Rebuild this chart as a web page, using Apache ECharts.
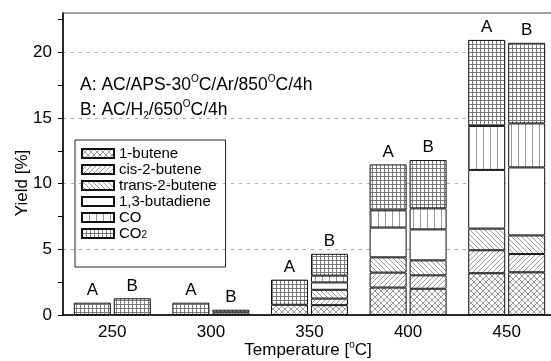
<!DOCTYPE html>
<html><head><meta charset="utf-8">
<script src="https://cdn.jsdelivr.net/npm/echarts@6/dist/echarts.min.js"></script>
<style>html,body{margin:0;padding:0;background:#fff}#c{width:551px;height:361px}</style>
</head><body><div id="c"></div>
<script>
// ---- data ----
const temperatures = ['250', '300', '350', '400', '450'];
const components = ['1-butene', 'cis-2-butene', 'trans-2-butene', '1,3-butadiene', 'CO', 'CO2'];
// Sample A: AC/APS-30°C/Ar/850°C/4h
const aButene1   = [0, 0, 0.78, 2.09, 3.18];
const aCis       = [0, 0, 0, 1.14, 1.75];
const aTrans     = [0, 0, 0, 1.16, 1.65];
const aButadiene = [0, 0, 0, 2.27, 4.47];
const aCO        = [0, 0, 0, 1.31, 3.35];
const aCO2       = [0.94, 0.94, 1.91, 3.50, 6.55];
// Sample B: AC/H2/650°C/4h
const bButene1   = [0, 0.2, 0.75, 2.00, 3.25];
const bCis       = [0, 0, 0.50, 1.02, 1.39];
const bTrans     = [0, 0, 0.67, 1.14, 1.42];
const bButadiene = [0, 0, 0.56, 2.36, 5.18];
const bCO        = [0, 0, 0.52, 1.60, 3.35];
const bCO2       = [1.27, 0.20, 1.66, 3.68, 6.14];
const yLabelValues = [0, 5, 10, 15, 20];
const yTickValues = [0, 2.5, 5, 7.5, 10, 12.5, 15, 17.5, 20, 22.5];

const FONT = 'Liberation Sans, Arial, sans-serif';

function pat(kind) {
  const s = kind === 'grid' ? 4 : kind === 'vert' ? 7 : kind === 'x' ? 6 : 5;
  const c = document.createElement('canvas'); c.width = s; c.height = s;
  const g = c.getContext('2d');
  g.fillStyle = '#fff'; g.fillRect(0, 0, s, s);
  if (kind === 'blank') return { image: c, repeat: 'repeat' };
  g.strokeStyle = kind === 'grid' ? '#7a7a7a' : '#9a9a9a';
  g.lineWidth = 1;
  g.beginPath();
  if (kind === 'x') {
    g.moveTo(-1, -1); g.lineTo(s + 1, s + 1);
    g.moveTo(s + 1, -1); g.lineTo(-1, s + 1);
  } else if (kind === 'fwd') {
    g.moveTo(-1, s + 1); g.lineTo(s + 1, -1);
    g.moveTo(-1, 1); g.lineTo(1, -1);
    g.moveTo(s - 1, s + 1); g.lineTo(s + 1, s - 1);
  } else if (kind === 'back') {
    g.moveTo(-1, -1); g.lineTo(s + 1, s + 1);
    g.moveTo(s - 1, -1); g.lineTo(s + 1, 1);
    g.moveTo(-1, s - 1); g.lineTo(1, s + 1);
  } else if (kind === 'vert') {
    g.moveTo(0.5, 0); g.lineTo(0.5, s);
  } else if (kind === 'grid') {
    g.moveTo(0.5, 0); g.lineTo(0.5, s);
    g.moveTo(0, 0.5); g.lineTo(s, 0.5);
  }
  g.stroke();
  return { image: c, repeat: 'repeat' };
}
const patterns = [pat('x'), pat('fwd'), pat('back'), pat('blank'), pat('vert'), pat('grid')];

const aData = [aButene1, aCis, aTrans, aButadiene, aCO, aCO2];
const bData = [bButene1, bCis, bTrans, bButadiene, bCO, bCO2];

function mk(stack, arrs, letter) {
  return components.map((name, i) => ({
    name: name,
    type: 'bar',
    stack: stack,
    barWidth: 37,
    barGap: '8%',
    data: arrs[i].map(v => (v === 0 ? '-' : v)),
    itemStyle: { color: patterns[i], borderColor: '#111', borderWidth: 1 },
    label: i === components.length - 1 ? {
      show: true, position: 'top', distance: 4, formatter: letter,
      fontFamily: FONT, fontSize: 17, color: '#000'
    } : { show: false },
    emphasis: { disabled: true },
    animation: false
  }));
}

const series = mk('A', aData, 'A').concat(mk('B', bData, 'B'));

const chart = echarts.init(document.getElementById('c'), null, { renderer: 'canvas' });
chart.setOption({
  animation: false,
  backgroundColor: '#fff',
  grid: { left: 63, right: -5, top: 13, bottom: 46, show: true, borderColor: '#444', borderWidth: 1, backgroundColor: 'transparent', outerBoundsMode: 'none', containLabel: false },
  legend: {
    data: components,
    orient: 'vertical',
    left: 75, top: 140,
    icon: 'rect',
    itemWidth: 32, itemHeight: 9,
    itemGap: 1,
    padding: [6, 9, 26, 6],
    borderColor: '#222', borderWidth: 1,
    selectedMode: false,
    textStyle: {
      fontFamily: FONT, fontSize: 15, color: '#000', lineHeight: 14,
      rich: {
        m: { fontFamily: FONT, fontSize: 15, color: '#000', lineHeight: 14 },
        s: { fontFamily: FONT, fontSize: 10, color: '#000', verticalAlign: 'bottom', lineHeight: 6 }
      }
    },
    formatter: n => (n === 'CO2' ? '{m|CO}{s|2}' : n)
  },
  xAxis: {
    type: 'category',
    data: temperatures,
    boundaryGap: true,
    axisLine: { lineStyle: { color: '#000', width: 1.5 } },
    axisTick: { show: false },
    axisLabel: { fontFamily: FONT, fontSize: 17, color: '#000', margin: 9 }
  },
  yAxis: [{
    type: 'value',
    min: 0, max: 23, interval: 5,
    axisLine: { show: true, lineStyle: { color: '#000', width: 1.5 } },
    axisTick: { show: true, inside: false, length: 5, customValues: yTickValues, lineStyle: { color: '#000' } },
    axisLabel: { fontFamily: FONT, fontSize: 17, color: '#000', margin: 11, customValues: yLabelValues },
    splitLine: { show: false }
  }, {
    type: 'value',
    position: 'left',
    min: 0, max: 23, interval: 5,
    axisLine: { show: false },
    axisTick: { show: false },
    axisLabel: { show: false },
    splitLine: { show: true, lineStyle: { color: '#aaa', type: [3, 5], width: 1 } }
  }],
  graphic: [
    {
      type: 'text', rotation: Math.PI / 2,
      style: { text: 'Yield [%]', fontFamily: FONT, fontSize: 17, fill: '#000', align: 'center', verticalAlign: 'middle' },
      x: 22, y: 183
    },
    {
      type: 'text', x: 308, y: 350,
      style: {
        text: '{t|Temperature [}{s|o}{t|C]}',
        align: 'center', verticalAlign: 'middle',
        rich: {
          t: { fontFamily: FONT, fontSize: 17, fill: '#000', lineHeight: 20 },
          s: { fontFamily: FONT, fontSize: 10, fill: '#000', verticalAlign: 'top', lineHeight: 10 }
        }
      }
    },
    {
      type: 'text', x: 80, y: 85,
      style: {
        text: '{t|A: AC/APS-30}{s|O}{t|C/Ar/850}{s|O}{t|C/4h}',
        verticalAlign: 'middle',
        rich: {
          t: { fontFamily: FONT, fontSize: 17.5, fill: '#000', lineHeight: 22 },
          s: { fontFamily: FONT, fontSize: 10, fill: '#000', verticalAlign: 'top', lineHeight: 10 }
        }
      }
    },
    {
      type: 'text', x: 80, y: 110,
      style: {
        text: '{t|B: AC/H}{b|2}{t|/650}{s|O}{t|C/4h}',
        verticalAlign: 'middle',
        rich: {
          t: { fontFamily: FONT, fontSize: 17.5, fill: '#000', lineHeight: 22 },
          s: { fontFamily: FONT, fontSize: 10, fill: '#000', verticalAlign: 'top', lineHeight: 10 },
          b: { fontFamily: FONT, fontSize: 10, fill: '#000', verticalAlign: 'bottom', lineHeight: 10 }
        }
      }
    }
  ],
  series: series
});
</script></body></html>
